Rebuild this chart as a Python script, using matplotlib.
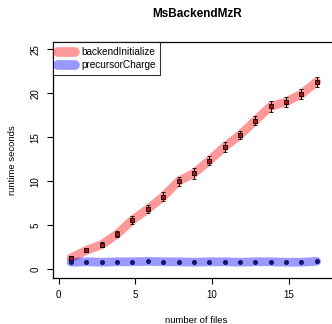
import numpy as np
import matplotlib
matplotlib.use('Agg')
import matplotlib.pyplot as plt
from matplotlib.lines import Line2D

plt.rcParams['font.family'] = ['Liberation Sans', 'DejaVu Sans']

# 数据
n_files = np.arange(1, 18)
init_time = [1.3, 2.15, 2.8, 4.0, 5.6, 6.85, 8.25, 10.0, 10.9, 12.35,
             13.9, 15.25, 16.9, 18.5, 19.0, 19.9, 21.3]
init_spread = [0.2, 0.2, 0.3, 0.3, 0.4, 0.5, 0.5, 0.5, 0.6, 0.5,
               0.6, 0.5, 0.5, 0.6, 0.6, 0.6, 0.6]
charge_time = [0.8, 0.85, 0.8, 0.85, 0.85, 0.9, 0.85, 0.85, 0.8, 0.85,
               0.85, 0.8, 0.85, 0.85, 0.8, 0.8, 0.9]
charge_spread = [0.1, 0.05, 0.15, 0.05, 0.05, 0.15, 0.05, 0.05, 0.15, 0.05,
                 0.05, 0.1, 0.05, 0.05, 0.1, 0.1, 0.15]
x_ticks = [0, 5, 10, 15]
y_ticks = [0, 5, 10, 15, 20, 25]

x = n_files - 0.18  # 图中点略微偏左

fig = plt.figure(figsize=(3.32, 3.24), dpi=100)
ax = fig.add_axes([0.1596, 0.142, 0.8645, 0.727])

red = (1, 0, 0, 0.4)
blue = (0, 0, 1, 0.4)
ax.plot(x, init_time, color=red, lw=6.3, solid_capstyle='round', solid_joinstyle='round')
ax.plot(x, charge_time, color=blue, lw=6.3, solid_capstyle='round', solid_joinstyle='round')

ax.errorbar(x, init_time, yerr=init_spread, fmt='s', ms=3.0, mfc='#a01818', mec='black',
            mew=0.6, ecolor='black', elinewidth=0.7, capsize=1.2, capthick=0.7)
ax.errorbar(x, charge_time, yerr=charge_spread, fmt='o', ms=2.6, mfc='#15156a', mec='#15156a',
            ecolor='#15156a', elinewidth=0.7, capsize=1.0, capthick=0.7)

ax.set_xlim(-0.36, 18.34)
ax.set_ylim(-0.99, 25.77)
ax.set_xticks(x_ticks)
ax.set_yticks(y_ticks)
ax.set_yticklabels([str(v) for v in y_ticks], rotation=90, va='center')
ax.tick_params(direction='out', length=4, width=0.8, labelsize=7, pad=5)
for s in ax.spines.values():
    s.set_linewidth(0.9)

ax.set_xlabel('number of files', fontsize=6.8, labelpad=11)
ax.set_ylabel('runtime seconds', fontsize=6.8, labelpad=10)
fig.text(0.5927, 0.957, 'MsBackendMzR', fontsize=8.5, fontweight='bold', ha='center', va='center')

handles = [Line2D([], [], color=red, lw=7, solid_capstyle='round'),
           Line2D([], [], color=blue, lw=7, solid_capstyle='round')]
leg = ax.legend(handles, ['backendInitialize', 'precursorCharge'], loc='upper left',
                bbox_to_anchor=(0, 1), borderaxespad=0, fontsize=7.2, frameon=True,
                fancybox=False, edgecolor='black', handlelength=1.7, handletextpad=0.6,
                labelspacing=0.3, borderpad=0.5)
leg.get_frame().set_linewidth(0.8)

fig.savefig('out.png', dpi=100)
